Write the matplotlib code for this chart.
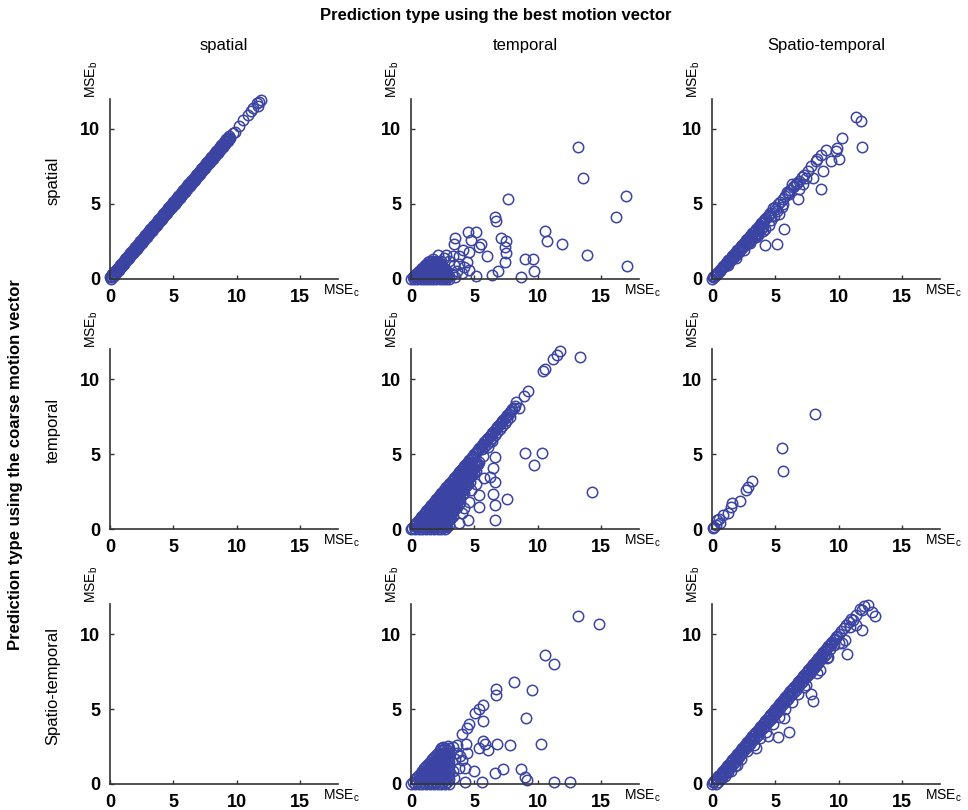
import matplotlib
matplotlib.use('Agg')
import matplotlib.pyplot as plt
import numpy as np


col_names = ['spatial', 'temporal', 'Spatio-temporal']
row_names = ['spatial', 'temporal', 'Spatio-temporal']
x_ticks = [0, 5, 10, 15]
y_ticks = [0, 5, 10]

# (MSE_c, MSE_b) pairs, one list per panel: <coarse type>_<best type>

# spatial / spatial : solid band on the diagonal
sp_sp_upper = [
    (0.0, 0.1), (0.1, 0.2), (0.2, 0.3), (0.3, 0.4), (0.4, 0.5), (0.5, 0.6), (0.6, 0.7), (0.7, 0.8), (0.8, 0.9), (0.9, 1.0),
    (1.0, 1.1), (1.1, 1.2), (1.2, 1.3), (1.3, 1.4), (1.4, 1.5), (1.5, 1.6), (1.6, 1.7), (1.7, 1.8), (1.8, 1.9), (1.9, 2.0),
    (2.0, 2.1), (2.1, 2.2), (2.2, 2.3), (2.3, 2.4), (2.4, 2.5), (2.5, 2.6), (2.6, 2.7), (2.7, 2.8), (2.8, 2.9), (2.9, 3.0),
    (3.0, 3.1), (3.1, 3.2), (3.2, 3.3), (3.3, 3.4), (3.4, 3.5), (3.5, 3.6), (3.6, 3.7), (3.7, 3.8), (3.8, 3.9), (3.9, 4.0),
    (4.0, 4.1), (4.1, 4.2), (4.2, 4.3), (4.3, 4.4), (4.4, 4.5), (4.5, 4.6), (4.6, 4.7), (4.7, 4.8), (4.8, 4.9), (4.9, 5.0),
    (5.0, 5.1), (5.1, 5.2), (5.2, 5.3), (5.3, 5.4), (5.4, 5.5), (5.5, 5.6), (5.6, 5.7), (5.7, 5.8), (5.8, 5.9), (5.9, 6.0),
    (6.0, 6.1), (6.1, 6.2), (6.2, 6.3), (6.3, 6.4), (6.4, 6.5), (6.5, 6.6), (6.6, 6.7), (6.7, 6.8), (6.8, 6.9), (6.9, 7.0),
    (7.0, 7.1), (7.1, 7.2), (7.2, 7.3), (7.3, 7.4), (7.4, 7.5), (7.5, 7.6), (7.6, 7.7), (7.7, 7.8), (7.8, 7.9), (7.9, 8.0),
    (8.0, 8.1), (8.1, 8.2), (8.2, 8.3), (8.3, 8.4), (8.4, 8.5), (8.5, 8.6), (8.6, 8.7), (8.7, 8.8), (8.8, 8.9), (8.9, 9.0),
    (9.0, 9.1), (9.1, 9.2), (9.2, 9.3), (9.3, 9.4), (9.4, 9.5),
]
sp_sp_lower = [
    (0.1, 0.0), (0.2, 0.1), (0.3, 0.2), (0.4, 0.3), (0.5, 0.4), (0.6, 0.5), (0.7, 0.6), (0.8, 0.7), (0.9, 0.8), (1.0, 0.9),
    (1.1, 1.0), (1.2, 1.1), (1.3, 1.2), (1.4, 1.3), (1.5, 1.4), (1.6, 1.5), (1.7, 1.6), (1.8, 1.7), (1.9, 1.8), (2.0, 1.9),
    (2.1, 2.0), (2.2, 2.1), (2.3, 2.2), (2.4, 2.3), (2.5, 2.4), (2.6, 2.5), (2.7, 2.6), (2.8, 2.7), (2.9, 2.8), (3.0, 2.9),
    (3.1, 3.0), (3.2, 3.1), (3.3, 3.2), (3.4, 3.3), (3.5, 3.4), (3.6, 3.5), (3.7, 3.6), (3.8, 3.7), (3.9, 3.8), (4.0, 3.9),
    (4.1, 4.0), (4.2, 4.1), (4.3, 4.2), (4.4, 4.3), (4.5, 4.4), (4.6, 4.5), (4.7, 4.6), (4.8, 4.7), (4.9, 4.8), (5.0, 4.9),
    (5.1, 5.0), (5.2, 5.1), (5.3, 5.2), (5.4, 5.3), (5.5, 5.4), (5.6, 5.5), (5.7, 5.6), (5.8, 5.7), (5.9, 5.8), (6.0, 5.9),
    (6.1, 6.0), (6.2, 6.1), (6.3, 6.2), (6.4, 6.3), (6.5, 6.4), (6.6, 6.5), (6.7, 6.6), (6.8, 6.7), (6.9, 6.8), (7.0, 6.9),
    (7.1, 7.0), (7.2, 7.1), (7.3, 7.2), (7.4, 7.3), (7.5, 7.4), (7.6, 7.5), (7.7, 7.6), (7.8, 7.7), (7.9, 7.8), (8.0, 7.9),
    (8.1, 8.0), (8.2, 8.1), (8.3, 8.2), (8.4, 8.3), (8.5, 8.4), (8.6, 8.5), (8.7, 8.6), (8.8, 8.7), (8.9, 8.8), (9.0, 8.9),
    (9.1, 9.0), (9.2, 9.1), (9.3, 9.2), (9.4, 9.3), (9.5, 9.4),
]
sp_sp_top = [
    (9.7, 9.7), (9.9, 9.8), (10.2, 10.2), (10.5, 10.6), (10.9, 10.9), (11.1, 11.2), (11.3, 11.4),
    (11.6, 11.7), (11.8, 11.8), (11.9, 11.9), (11.7, 11.5),
]

# spatial / temporal : wedge near the origin plus scattered points
sp_te_cluster = [
    (0.0, 0.0), (0.25, 0.0), (0.5, 0.0), (0.75, 0.0), (1.0, 0.0), (1.25, 0.0), (1.5, 0.0), (1.75, 0.0), (2.0, 0.0),
    (2.25, 0.0), (2.5, 0.0), (2.75, 0.0), (3.0, 0.0),
    (0.12, 0.1), (0.38, 0.1), (0.62, 0.1), (0.88, 0.1), (1.12, 0.1), (1.38, 0.1), (1.62, 0.1), (1.88, 0.1),
    (2.12, 0.1), (2.38, 0.1), (2.62, 0.1), (2.88, 0.1),
    (0.25, 0.2), (0.5, 0.2), (0.75, 0.2), (1.0, 0.2), (1.25, 0.2), (1.5, 0.2), (1.75, 0.2), (2.0, 0.2), (2.25, 0.2),
    (2.5, 0.2), (2.75, 0.2), (3.0, 0.2),
    (0.38, 0.3), (0.62, 0.3), (0.88, 0.3), (1.12, 0.3), (1.38, 0.3), (1.62, 0.3), (1.88, 0.3), (2.12, 0.3),
    (2.38, 0.3), (2.62, 0.3), (2.88, 0.3),
    (0.5, 0.4), (0.75, 0.4), (1.0, 0.4), (1.25, 0.4), (1.5, 0.4), (1.75, 0.4), (2.0, 0.4), (2.25, 0.4), (2.5, 0.4),
    (2.75, 0.4),
    (0.62, 0.5), (0.88, 0.5), (1.12, 0.5), (1.38, 0.5), (1.62, 0.5), (1.88, 0.5), (2.12, 0.5), (2.38, 0.5), (2.62, 0.5),
    (0.75, 0.6), (1.0, 0.6), (1.25, 0.6), (1.5, 0.6), (1.75, 0.6), (2.0, 0.6), (2.25, 0.6), (2.5, 0.6), (2.75, 0.6),
    (0.88, 0.7), (1.12, 0.7), (1.38, 0.7), (1.62, 0.7), (1.88, 0.7), (2.12, 0.7), (2.38, 0.7), (2.62, 0.7),
    (1.0, 0.8), (1.25, 0.8), (1.5, 0.8), (1.75, 0.8), (2.0, 0.8), (2.25, 0.8), (2.5, 0.8),
    (1.12, 0.9), (1.38, 0.9), (1.62, 0.9), (1.88, 0.9), (2.12, 0.9), (2.38, 0.9),
    (1.25, 1.0), (1.5, 1.0), (1.75, 1.0), (2.0, 1.0), (2.25, 1.0),
    (1.38, 1.1), (1.62, 1.1), (1.88, 1.1), (2.12, 1.1),
    (1.5, 1.2), (2.0, 1.2), (2.4, 1.2),
]
sp_te_scatter = [
    (13.15, 8.8), (13.6, 6.7), (17.0, 5.5), (16.2, 4.1), (17.05, 0.86), (13.9, 1.6), (11.9, 2.3),
    (10.6, 3.2), (10.7, 2.5), (9.0, 1.3), (9.6, 1.3), (9.7, 0.5), (8.7, 0.15), (7.65, 5.3), (6.6, 4.1),
    (6.7, 3.85), (7.1, 2.75), (7.5, 2.5), (7.4, 2.1), (7.5, 1.75), (7.4, 1.1), (6.9, 0.5), (6.4, 0.25),
    (6.0, 1.5), (5.5, 2.35), (5.4, 2.1), (5.1, 0.2), (4.5, 3.1), (5.1, 3.1), (4.7, 2.6), (4.6, 1.8),
    (4.4, 1.15), (4.6, 0.6), (3.5, 2.7), (3.4, 2.35), (4.1, 1.9), (3.8, 1.5), (2.8, 1.6), (2.1, 1.6),
    (3.2, 0.3), (3.4, 0.9), (3.6, 0.5), (3.8, 1.0), (4.0, 0.4), (4.2, 0.8), (2.6, 1.4), (3.0, 1.2),
    (3.3, 1.5), (1.7, 1.3), (3.5, 0.1),
]

# spatial / spatio-temporal : band a little under the diagonal
sp_st_band = [
    (0.0, 0.0), (0.1, 0.1), (0.2, 0.19), (0.3, 0.29), (0.4, 0.38), (0.5, 0.48), (0.6, 0.57), (0.7, 0.67),
    (0.8, 0.76), (0.9, 0.86), (1.0, 0.95), (1.1, 1.05), (1.2, 1.14), (1.3, 1.24), (1.4, 1.33), (1.5, 1.43),
    (1.6, 1.52), (1.7, 1.62), (1.8, 1.71), (1.9, 1.81), (2.0, 1.9), (2.1, 2.0), (2.2, 2.09), (2.3, 2.19),
    (2.4, 2.28), (2.5, 2.38), (2.6, 2.47), (2.7, 2.57), (2.8, 2.66), (2.9, 2.76), (3.0, 2.85), (3.1, 2.95),
    (3.2, 3.04), (3.3, 3.14), (3.4, 3.23), (3.5, 3.33), (3.6, 3.42), (3.7, 3.52), (3.8, 3.61), (3.9, 3.71),
    (4.0, 3.8), (4.1, 3.9), (4.2, 3.99), (4.3, 4.09), (4.4, 4.18), (4.5, 4.28),
    (0.15, 0.13), (0.3, 0.26), (0.45, 0.38), (0.6, 0.51), (0.75, 0.64), (0.9, 0.77), (1.05, 0.89), (1.2, 1.02),
    (1.35, 1.15), (1.5, 1.28), (1.65, 1.4), (1.8, 1.53), (1.95, 1.66), (2.1, 1.79), (2.25, 1.91), (2.4, 2.04),
    (2.55, 2.17), (2.7, 2.3), (2.85, 2.42), (3.0, 2.55), (3.15, 2.68), (3.3, 2.81), (3.45, 2.93), (3.6, 3.06),
    (3.75, 3.19), (3.9, 3.32), (4.05, 3.44),
]
sp_st_scatter = [
    (4.6, 4.4), (4.7, 4.2), (4.8, 4.7), (5.0, 4.8), (5.1, 4.5), (5.2, 5.0), (5.4, 5.1), (5.5, 4.8),
    (5.6, 5.3), (5.8, 5.5), (6.0, 5.7), (6.2, 5.9), (6.3, 6.3), (6.5, 6.2), (6.7, 6.4), (6.9, 6.5),
    (7.1, 6.8), (7.3, 6.9), (7.6, 7.2), (1.3, 0.9), (1.9, 1.4), (2.5, 1.9), (3.0, 2.4), (3.6, 2.9),
    (4.0, 3.2), (3.5, 2.8), (4.5, 3.6), (4.2, 3.3),
    (11.35, 10.8), (11.75, 10.55), (11.85, 8.8), (10.25, 9.4), (9.9, 8.75), (9.8, 8.5), (10.0, 8.0),
    (9.4, 7.85), (8.6, 8.25), (8.2, 7.85), (8.8, 7.2), (8.6, 6.0), (7.95, 6.75), (7.4, 6.7), (6.4, 6.1),
    (6.1, 5.65), (6.8, 5.35), (5.65, 3.3), (5.15, 2.35), (4.2, 2.25), (5.05, 4.65), (5.3, 4.35),
    (4.7, 3.9), (4.0, 3.7), (3.75, 3.45), (3.1, 2.8), (8.3, 8.0), (9.0, 8.6), (7.8, 7.5), (6.6, 6.3),
    (5.9, 5.8), (6.9, 6.0), (7.2, 6.3), (5.6, 5.0), (4.9, 4.2),
]

# temporal / spatial and spatio-temporal / spatial : no points
te_sp = []
st_sp = []

# temporal / temporal : diagonal edge with a filled triangle under it
te_te_diag = [
    (0.0, 0.0), (0.1, 0.1), (0.2, 0.2), (0.3, 0.3), (0.4, 0.4), (0.5, 0.5), (0.6, 0.6), (0.7, 0.7), (0.8, 0.8), (0.9, 0.9),
    (1.0, 1.0), (1.1, 1.1), (1.2, 1.2), (1.3, 1.3), (1.4, 1.4), (1.5, 1.5), (1.6, 1.6), (1.7, 1.7), (1.8, 1.8), (1.9, 1.9),
    (2.0, 2.0), (2.1, 2.1), (2.2, 2.2), (2.3, 2.3), (2.4, 2.4), (2.5, 2.5), (2.6, 2.6), (2.7, 2.7), (2.8, 2.8), (2.9, 2.9),
    (3.0, 3.0), (3.1, 3.1), (3.2, 3.2), (3.3, 3.3), (3.4, 3.4), (3.5, 3.5), (3.6, 3.6), (3.7, 3.7), (3.8, 3.8), (3.9, 3.9),
    (4.0, 4.0), (4.1, 4.1), (4.2, 4.2), (4.3, 4.3), (4.4, 4.4), (4.5, 4.5), (4.6, 4.6), (4.7, 4.7), (4.8, 4.8), (4.9, 4.9),
    (5.0, 5.0), (5.1, 5.1), (5.2, 5.2), (5.3, 5.3), (5.4, 5.4), (5.5, 5.5), (5.6, 5.6), (5.7, 5.7), (5.8, 5.8), (5.9, 5.9),
    (6.0, 6.0), (6.1, 6.1), (6.2, 6.2), (6.3, 6.3), (6.4, 6.4), (6.5, 6.5), (6.6, 6.6), (6.7, 6.7), (6.8, 6.8), (6.9, 6.9),
    (7.0, 7.0), (7.1, 7.1), (7.2, 7.2), (7.3, 7.3), (7.4, 7.4), (7.5, 7.5), (7.6, 7.6), (7.7, 7.7), (7.8, 7.8), (7.9, 7.9),
    (8.0, 8.0), (8.1, 8.1), (8.2, 8.2),
    (5.6, 5.35), (5.8, 5.5), (6.0, 5.7), (6.2, 5.9), (6.4, 6.1), (6.6, 6.3), (6.8, 6.5), (7.0, 6.7),
    (7.2, 6.9), (7.4, 7.1), (7.6, 7.3), (7.8, 7.5),
]
te_te_fill = [
    (0.3, 0.0), (0.6, 0.0), (0.9, 0.0), (1.2, 0.0), (1.5, 0.0), (1.8, 0.0), (2.1, 0.0), (2.4, 0.0), (2.7, 0.0),
    (0.45, 0.15), (0.75, 0.15), (1.05, 0.15), (1.35, 0.15), (1.65, 0.15), (1.95, 0.15), (2.25, 0.15), (2.55, 0.15),
    (2.85, 0.15),
    (0.6, 0.3), (0.9, 0.3), (1.2, 0.3), (1.5, 0.3), (1.8, 0.3), (2.1, 0.3), (2.4, 0.3), (2.7, 0.3), (3.0, 0.3),
    (0.75, 0.45), (1.05, 0.45), (1.35, 0.45), (1.65, 0.45), (1.95, 0.45), (2.25, 0.45), (2.55, 0.45), (2.85, 0.45),
    (0.9, 0.6), (1.2, 0.6), (1.5, 0.6), (1.8, 0.6), (2.1, 0.6), (2.4, 0.6), (2.7, 0.6), (3.0, 0.6),
    (1.05, 0.75), (1.35, 0.75), (1.65, 0.75), (1.95, 0.75), (2.25, 0.75), (2.55, 0.75), (2.85, 0.75), (3.15, 0.75),
    (1.2, 0.9), (1.5, 0.9), (1.8, 0.9), (2.1, 0.9), (2.4, 0.9), (2.7, 0.9), (3.0, 0.9), (3.3, 0.9),
    (1.35, 1.05), (1.65, 1.05), (1.95, 1.05), (2.25, 1.05), (2.55, 1.05), (2.85, 1.05), (3.15, 1.05),
    (1.5, 1.2), (1.8, 1.2), (2.1, 1.2), (2.4, 1.2), (2.7, 1.2), (3.0, 1.2), (3.3, 1.2),
    (1.65, 1.35), (1.95, 1.35), (2.25, 1.35), (2.55, 1.35), (2.85, 1.35), (3.15, 1.35), (3.45, 1.35),
    (1.8, 1.5), (2.1, 1.5), (2.4, 1.5), (2.7, 1.5), (3.0, 1.5), (3.3, 1.5), (3.6, 1.5),
    (1.95, 1.65), (2.25, 1.65), (2.55, 1.65), (2.85, 1.65), (3.15, 1.65), (3.45, 1.65), (3.75, 1.65),
    (2.1, 1.8), (2.4, 1.8), (2.7, 1.8), (3.0, 1.8), (3.3, 1.8), (3.6, 1.8), (3.9, 1.8),
    (2.25, 1.95), (2.55, 1.95), (2.85, 1.95), (3.15, 1.95), (3.45, 1.95), (3.75, 1.95),
    (2.4, 2.1), (2.7, 2.1), (3.0, 2.1), (3.3, 2.1), (3.6, 2.1), (3.9, 2.1),
    (2.55, 2.25), (2.85, 2.25), (3.15, 2.25), (3.45, 2.25), (3.75, 2.25), (4.05, 2.25),
    (2.7, 2.4), (3.0, 2.4), (3.3, 2.4), (3.6, 2.4), (3.9, 2.4), (4.2, 2.4),
    (2.85, 2.55), (3.15, 2.55), (3.45, 2.55), (3.75, 2.55), (4.05, 2.55),
    (3.0, 2.7), (3.3, 2.7), (3.6, 2.7), (3.9, 2.7), (4.2, 2.7),
    (3.15, 2.85), (3.45, 2.85), (3.75, 2.85), (4.05, 2.85), (4.35, 2.85),
    (3.3, 3.0), (3.6, 3.0), (3.9, 3.0), (4.2, 3.0), (4.5, 3.0),
    (3.45, 3.15), (3.75, 3.15), (4.05, 3.15), (4.35, 3.15), (4.65, 3.15),
    (3.6, 3.3), (3.9, 3.3), (4.2, 3.3), (4.5, 3.3),
    (3.75, 3.45), (4.05, 3.45), (4.35, 3.45), (4.65, 3.45),
    (3.9, 3.6), (4.2, 3.6), (4.5, 3.6), (4.8, 3.6),
    (4.05, 3.75), (4.35, 3.75), (4.65, 3.75), (4.95, 3.75),
    (4.2, 3.9), (4.5, 3.9), (4.8, 3.9), (5.1, 3.9),
    (4.35, 4.05), (4.65, 4.05), (4.95, 4.05),
    (4.5, 4.2), (4.8, 4.2), (5.1, 4.2),
    (4.65, 4.35), (4.95, 4.35), (5.25, 4.35),
    (4.8, 4.5), (5.1, 4.5), (5.4, 4.5),
]
te_te_scatter = [
    (11.8, 11.9), (11.55, 11.6), (11.2, 11.35), (13.35, 11.5), (10.45, 10.55), (10.6, 10.7),
    (9.2, 9.2), (8.9, 8.9), (8.3, 8.5), (8.55, 8.05), (9.0, 5.05), (10.35, 5.05), (9.7, 4.25),
    (14.3, 2.45), (7.55, 2.0), (6.6, 4.8), (6.5, 4.1), (6.6, 3.15), (6.45, 2.35), (6.65, 1.6),
    (6.65, 0.6), (6.2, 3.45), (5.4, 2.25), (5.35, 1.5), (4.5, 0.6), (4.0, 1.05), (4.55, 1.8),
    (5.15, 3.0), (5.0, 3.8), (3.05, 0.7), (2.8, 0.2), (5.9, 5.85), (5.7, 4.9), (5.2, 4.3),
    (4.7, 2.6), (5.8, 3.4), (4.2, 1.4), (3.8, 0.4), (6.1, 5.5), (6.4, 5.9),
]

# temporal / spatio-temporal : a handful of points
te_st = [
    (8.1, 7.7), (5.55, 5.4), (5.6, 3.85), (3.2, 3.2), (2.85, 2.8), (2.7, 2.6), (2.2, 1.9), (1.6, 1.75),
    (1.5, 1.5), (1.25, 1.1), (0.85, 0.95), (0.55, 0.7), (0.4, 0.6), (0.65, 0.4), (0.2, 0.15), (0.1, 0.1),
    (0.35, 0.25),
]

# spatio-temporal / temporal : filled corner plus a wide scatter
st_te_cluster = [
    (0.0, 0.0), (0.3, 0.0), (0.6, 0.0), (0.9, 0.0), (1.2, 0.0), (1.5, 0.0), (1.8, 0.0), (2.1, 0.0), (2.4, 0.0),
    (2.7, 0.0), (3.0, 0.0),
    (0.15, 0.15), (0.45, 0.15), (0.75, 0.15), (1.05, 0.15), (1.35, 0.15), (1.65, 0.15), (1.95, 0.15), (2.25, 0.15),
    (2.55, 0.15), (2.85, 0.15),
    (0.3, 0.3), (0.6, 0.3), (0.9, 0.3), (1.2, 0.3), (1.5, 0.3), (1.8, 0.3), (2.1, 0.3), (2.4, 0.3), (2.7, 0.3),
    (3.0, 0.3),
    (0.45, 0.45), (0.75, 0.45), (1.05, 0.45), (1.35, 0.45), (1.65, 0.45), (1.95, 0.45), (2.25, 0.45), (2.55, 0.45),
    (2.85, 0.45),
    (0.6, 0.6), (0.9, 0.6), (1.2, 0.6), (1.5, 0.6), (1.8, 0.6), (2.1, 0.6), (2.4, 0.6), (2.7, 0.6), (3.0, 0.6),
    (0.75, 0.75), (1.05, 0.75), (1.35, 0.75), (1.65, 0.75), (1.95, 0.75), (2.25, 0.75), (2.55, 0.75), (2.85, 0.75),
    (0.9, 0.9), (1.2, 0.9), (1.5, 0.9), (1.8, 0.9), (2.1, 0.9), (2.4, 0.9), (2.7, 0.9), (3.0, 0.9),
    (1.05, 1.05), (1.35, 1.05), (1.65, 1.05), (1.95, 1.05), (2.25, 1.05), (2.55, 1.05), (2.85, 1.05),
    (1.2, 1.2), (1.5, 1.2), (1.8, 1.2), (2.1, 1.2), (2.4, 1.2), (2.7, 1.2), (3.0, 1.2),
    (1.35, 1.35), (1.65, 1.35), (1.95, 1.35), (2.25, 1.35), (2.55, 1.35), (2.85, 1.35),
    (1.5, 1.5), (1.8, 1.5), (2.1, 1.5), (2.4, 1.5), (2.7, 1.5), (3.0, 1.5),
    (1.65, 1.65), (1.95, 1.65), (2.25, 1.65), (2.55, 1.65), (2.85, 1.65),
    (1.8, 1.8), (2.1, 1.8), (2.4, 1.8), (2.7, 1.8), (3.0, 1.8),
    (1.95, 1.95), (2.25, 1.95), (2.55, 1.95), (2.85, 1.95),
    (2.1, 2.1), (2.4, 2.1), (2.7, 2.1), (3.0, 2.1),
    (2.25, 2.25), (2.55, 2.25), (2.85, 2.25),
    (2.4, 2.4), (2.7, 2.4), (3.0, 2.4),
]
st_te_scatter = [
    (13.2, 11.2), (14.85, 10.7), (10.6, 8.6), (11.3, 8.0), (8.1, 6.8), (6.7, 6.35), (6.7, 5.95),
    (9.55, 6.25), (9.05, 4.4), (10.3, 2.7), (5.65, 5.25), (5.4, 5.0), (5.05, 4.75), (5.7, 4.2),
    (4.6, 4.0), (4.45, 3.75), (4.0, 3.35), (5.65, 2.9), (5.85, 2.65), (5.4, 2.4), (6.1, 2.25),
    (6.8, 2.65), (7.8, 2.6), (4.35, 2.7), (4.45, 2.05), (3.9, 1.85), (4.25, 1.05), (5.0, 0.9),
    (6.65, 0.75), (7.3, 1.0), (8.7, 1.0), (9.0, 0.45), (9.15, 0.25), (4.25, 0.1), (5.6, 0.1),
    (11.3, 0.1), (12.55, 0.1), (3.65, 2.6), (3.3, 2.5), (2.95, 2.55), (2.55, 2.5),
    (3.5, 1.7), (3.8, 1.1), (3.3, 0.9), (3.6, 2.1), (4.0, 1.6), (3.4, 0.4),
]

# spatio-temporal / spatio-temporal : diagonal band, spread on its lower side
st_st_diag = [
    (0.0, 0.0), (0.1, 0.1), (0.2, 0.2), (0.3, 0.3), (0.4, 0.4), (0.5, 0.5), (0.6, 0.6), (0.7, 0.7), (0.8, 0.8), (0.9, 0.9),
    (1.0, 1.0), (1.1, 1.1), (1.2, 1.2), (1.3, 1.3), (1.4, 1.4), (1.5, 1.5), (1.6, 1.6), (1.7, 1.7), (1.8, 1.8), (1.9, 1.9),
    (2.0, 2.0), (2.1, 2.1), (2.2, 2.2), (2.3, 2.3), (2.4, 2.4), (2.5, 2.5), (2.6, 2.6), (2.7, 2.7), (2.8, 2.8), (2.9, 2.9),
    (3.0, 3.0), (3.1, 3.1), (3.2, 3.2), (3.3, 3.3), (3.4, 3.4), (3.5, 3.5), (3.6, 3.6), (3.7, 3.7), (3.8, 3.8), (3.9, 3.9),
    (4.0, 4.0), (4.1, 4.1), (4.2, 4.2), (4.3, 4.3), (4.4, 4.4), (4.5, 4.5), (4.6, 4.6), (4.7, 4.7), (4.8, 4.8), (4.9, 4.9),
    (5.0, 5.0), (5.1, 5.1), (5.2, 5.2), (5.3, 5.3), (5.4, 5.4), (5.5, 5.5), (5.6, 5.6), (5.7, 5.7), (5.8, 5.8), (5.9, 5.9),
    (6.0, 6.0), (6.1, 6.1), (6.2, 6.2), (6.3, 6.3), (6.4, 6.4), (6.5, 6.5), (6.6, 6.6), (6.7, 6.7), (6.8, 6.8), (6.9, 6.9),
    (7.0, 7.0), (7.1, 7.1), (7.2, 7.2), (7.3, 7.3), (7.4, 7.4), (7.5, 7.5), (7.6, 7.6), (7.7, 7.7), (7.8, 7.8), (7.9, 7.9),
    (8.0, 8.0), (8.1, 8.1), (8.2, 8.2), (8.3, 8.3), (8.4, 8.4), (8.5, 8.5), (8.6, 8.6), (8.7, 8.7), (8.8, 8.8), (8.9, 8.9),
    (9.0, 9.0), (9.1, 9.1), (9.2, 9.2), (9.3, 9.3), (9.4, 9.4), (9.5, 9.5), (9.6, 9.6), (9.7, 9.7), (9.8, 9.8), (9.9, 9.9),
    (10.0, 10.0), (10.2, 10.2), (10.4, 10.4), (10.6, 10.6), (10.8, 10.8), (11.0, 11.0),
]
st_st_lower = [
    (0.3, 0.0), (0.45, 0.15), (0.6, 0.3), (0.75, 0.45), (0.9, 0.6), (1.05, 0.75), (1.2, 0.9), (1.35, 1.05),
    (1.5, 1.2), (1.65, 1.35), (1.8, 1.5), (1.95, 1.65), (2.1, 1.8), (2.25, 1.95), (2.4, 2.1), (2.55, 2.25),
    (2.7, 2.4), (2.85, 2.55), (3.0, 2.7), (3.15, 2.85), (3.3, 3.0), (3.45, 3.15), (3.6, 3.3), (3.75, 3.45),
    (3.9, 3.6), (4.05, 3.75), (4.2, 3.9), (4.35, 4.05), (4.5, 4.2), (4.65, 4.35), (4.8, 4.5), (4.95, 4.65),
    (5.1, 4.8), (5.25, 4.95), (5.4, 5.1), (5.55, 5.25), (5.7, 5.4), (5.85, 5.55), (6.0, 5.7), (6.15, 5.85),
    (6.3, 6.0), (6.45, 6.15), (6.6, 6.3), (6.75, 6.45), (6.9, 6.6), (7.05, 6.75), (7.2, 6.9), (7.35, 7.05),
    (7.5, 7.2), (7.65, 7.35), (7.8, 7.5), (7.95, 7.65), (8.1, 7.8), (8.25, 7.95), (8.4, 8.1), (8.55, 8.25),
    (8.7, 8.4), (8.85, 8.55), (9.0, 8.7), (9.3, 9.0), (9.6, 9.3),
]
st_st_scatter = [
    (0.8, 0.4), (1.3, 0.8), (1.8, 1.2), (2.3, 1.7), (2.8, 2.2), (3.3, 2.6), (3.8, 3.1), (4.3, 3.5),
    (4.8, 4.0), (5.3, 4.5), (5.8, 5.0), (6.3, 5.5), (6.8, 6.0), (7.3, 6.5), (8.3, 7.4), (9.2, 8.5),
    (12.3, 11.95), (12.6, 11.5), (12.9, 11.2), (11.85, 11.6), (11.1, 10.95), (10.7, 8.7), (11.85, 10.3),
    (10.3, 9.4), (10.5, 9.6), (7.8, 6.0), (7.95, 5.55), (6.05, 3.5), (5.7, 4.4), (5.2, 3.15),
    (8.5, 7.6), (9.1, 8.4), (7.4, 6.6), (11.4, 11.3), (11.7, 11.7), (12.0, 11.9), (10.9, 10.5),
    (10.0, 9.4), (11.4, 10.6), (4.4, 3.2), (3.5, 2.4), (2.0, 1.3), (1.5, 0.9), (1.0, 0.5),
]

panels = [[sp_sp_upper + sp_sp_lower + sp_sp_top, sp_te_cluster + sp_te_scatter, sp_st_band + sp_st_scatter],
          [te_sp, te_te_diag + te_te_fill + te_te_scatter, te_st],
          [st_sp, st_te_cluster + st_te_scatter, st_st_diag + st_st_lower + st_st_scatter]]


def plot_panel(ax, pts):
    if len(pts) > 0:
        arr = np.array(pts)
        ax.plot(arr[:, 0], arr[:, 1], 'o', ms=7.5, mfc='none', mec='#3b44a3', mew=1.1,
                linestyle='none', clip_on=False)
    ax.set_xlim(0, 18)
    ax.set_ylim(0, 12)
    ax.set_xticks(x_ticks)
    ax.set_yticks(y_ticks)
    for side in ['top', 'right']:
        ax.spines[side].set_visible(False)
    for side in ['left', 'bottom']:
        ax.spines[side].set_color('#333333')
        ax.spines[side].set_linewidth(1.2)
    ax.tick_params(direction='in', length=3, width=1, labelsize=13, pad=7, colors='#333333',
                   labelcolor='black')
    for lab in ax.get_xticklabels() + ax.get_yticklabels():
        lab.set_fontweight('bold')
    ax.text(-0.079, 1.11, r'MSE$_\mathregular{b}$', transform=ax.transAxes, rotation=90,
            ha='center', va='center', fontsize=10)
    ax.text(0.934, -0.02, r'MSE$_\mathregular{c}$', transform=ax.transAxes,
            ha='left', va='top', fontsize=10)


def main():
    plt.rcParams['font.family'] = ['Liberation Sans', 'DejaVu Sans']
    fig = plt.figure(figsize=(9.68, 8.1), dpi=100)

    lefts = [0.1136, 0.4246, 0.7355]
    bottoms = [0.6556, 0.3469, 0.0321]
    w, h = 0.2355, 0.2222

    for r in range(3):
        for c in range(3):
            ax = fig.add_axes([lefts[c], bottoms[r], w, h])
            plot_panel(ax, panels[r][c])

    for c in range(3):
        fig.text(lefts[c] + w / 2, 0.944, col_names[c], ha='center', va='center', fontsize=12)
    for r in range(3):
        fig.text(0.055, bottoms[r] + h / 2 + 0.01, row_names[r], ha='center', va='center',
                 fontsize=12, rotation=90)

    fig.text(0.512, 0.981, 'Prediction type using the best motion vector', ha='center',
             va='center', fontsize=12, fontweight='bold')
    fig.text(0.016, 0.426, 'Prediction type using the coarse motion vector', ha='center',
             va='center', fontsize=12, fontweight='bold', rotation=90)

    fig.savefig('out.png', dpi=100)
    plt.close(fig)


if __name__ == '__main__':
    main()
